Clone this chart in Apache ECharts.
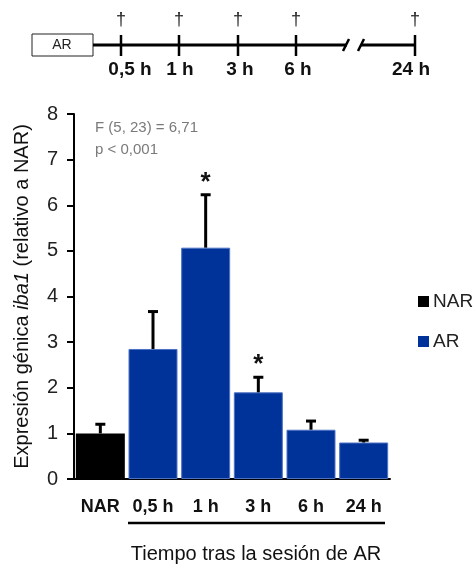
<!DOCTYPE html>
<html>
<head>
<meta charset="utf-8">
<script src="https://cdn.jsdelivr.net/npm/echarts@6/dist/echarts.min.js"></script>
<style>
html,body{margin:0;padding:0;background:#fff;}
#c{width:476px;height:565px;}
</style>
</head>
<body>
<div id="c"></div>
<script>
// ---- data ----
const categories = ['NAR', '0,5 h', '1 h', '3 h', '6 h', '24 h'];
const narValues = [1.0, '-', '-', '-', '-', '-'];
const arValues = ['-', 2.85, 5.07, 1.90, 1.08, 0.80];
const means = [1.0, 2.85, 5.07, 1.90, 1.08, 0.80];
const errTop = [1.20, 3.67, 6.23, 2.23, 1.27, 0.85];
const significant = [0, 0, 1, 1, 0, 0];
const yTicks = [0, 1, 2, 3, 4, 5, 6, 7, 8];
const timelineLabels = ['0,5 h', '1 h', '3 h', '6 h', '24 h'];
const statsLines = ['F (5, 23) = 6,71', 'p < 0,001'];

const FONT = 'Liberation Sans';
const BLUE = '#003399';

const errData = categories.map((c, i) => [i, means[i], errTop[i], significant[i]]);

const chart = echarts.init(document.getElementById('c'), null, {renderer: 'canvas'});

// timeline decoration
const tlX = [121, 179, 238, 296, 415];
const tl = [];
tl.push({type: 'rect', shape: {x: 32, y: 34, width: 61, height: 22}, style: {fill: '#fff', stroke: '#222', lineWidth: 1}});
tl.push({type: 'text', x: 62, y: 45, style: {text: 'AR', font: '14px ' + FONT, fill: '#222', textAlign: 'center', textVerticalAlign: 'middle'}});
tl.push({type: 'line', shape: {x1: 93, y1: 45, x2: 347, y2: 45}, style: {stroke: '#000', lineWidth: 3}});
tl.push({type: 'line', shape: {x1: 361, y1: 45, x2: 415, y2: 45}, style: {stroke: '#000', lineWidth: 3}});
tl.push({type: 'line', shape: {x1: 343, y1: 51, x2: 349, y2: 39}, style: {stroke: '#000', lineWidth: 2.5}});
tl.push({type: 'line', shape: {x1: 358, y1: 51, x2: 364, y2: 39}, style: {stroke: '#000', lineWidth: 2.5}});
tlX.forEach((x, i) => {
  tl.push({type: 'line', shape: {x1: x, y1: 35, x2: x, y2: 56}, style: {stroke: '#000', lineWidth: 2.5}});
  tl.push({type: 'text', x: x, y: 20, style: {text: '†', font: '18px ' + FONT, fill: '#222', textAlign: 'center', textVerticalAlign: 'middle'}});
});
const tlLabelX = [130, 180, 240, 298, 411];
timelineLabels.forEach((t, i) => {
  tl.push({type: 'text', x: tlLabelX[i], y: 70, style: {text: t, font: 'bold 19px ' + FONT, fill: '#111', textAlign: 'center', textVerticalAlign: 'middle'}});
});

const option = {
  animation: false,
  backgroundColor: '#fff',
  grid: {left: 74, right: 86, top: 114, bottom: 86, containLabel: false},
  legend: {
    data: ['NAR', 'AR'],
    orient: 'vertical',
    left: 418,
    top: 292,
    icon: 'rect',
    itemWidth: 11,
    itemHeight: 11,
    itemGap: 21,
    padding: 0,
    itemStyle: {borderWidth: 0},
    textStyle: {fontSize: 19, fontFamily: FONT, color: '#222', padding: [0, 0, 0, -1]}
  },
  xAxis: {
    type: 'category',
    data: categories,
    axisLine: {lineStyle: {color: '#000', width: 2}},
    axisTick: {show: false},
    axisLabel: {fontSize: 18, fontWeight: 'bold', fontFamily: FONT, color: '#111', margin: 19, interval: 0}
  },
  yAxis: {
    type: 'value',
    min: 0, max: 8, interval: 1,
    splitLine: {show: false},
    axisLine: {show: true, lineStyle: {color: '#000', width: 2}},
    axisTick: {show: true, length: 7, lineStyle: {color: '#000', width: 2}},
    axisLabel: {fontSize: 20, fontFamily: FONT, color: '#222', margin: 16},
    name: '{n|Expresión génica }{i|iba1}{n| (relativo a NAR)}',
    nameLocation: 'middle',
    nameRotate: 90,
    nameGap: 42,
    nameTextStyle: {
      fontSize: 20, fontFamily: FONT, color: '#111',
      rich: {
        n: {fontSize: 20, fontFamily: FONT, color: '#111'},
        i: {fontSize: 20, fontFamily: FONT, color: '#111', fontStyle: 'italic'}
      }
    }
  },
  series: [
    {
      name: 'NAR', type: 'bar', data: narValues, barGap: '-100%', barCategoryGap: '7%',
      itemStyle: {color: '#000'}
    },
    {
      name: 'AR', type: 'bar', data: arValues, barGap: '-100%', barCategoryGap: '7%',
      itemStyle: {color: BLUE, borderColor: '#4d72c4', borderWidth: 1}
    },
    {
      name: 'err', type: 'custom', data: errData, z: 10,
      renderItem: function (params, api) {
        const base = api.coord([api.value(0), api.value(1)]);
        const top = api.coord([api.value(0), api.value(2)]);
        const children = [
          {type: 'line', shape: {x1: base[0], y1: base[1], x2: top[0], y2: top[1]}, style: {stroke: '#000', lineWidth: 3}},
          {type: 'line', shape: {x1: top[0] - 5, y1: top[1], x2: top[0] + 5, y2: top[1]}, style: {stroke: '#000', lineWidth: 3}}
        ];
        if (api.value(3)) {
          children.push({type: 'text', x: top[0], y: top[1] + 1, style: {text: '*', font: 'bold 26px ' + FONT, fill: '#111', textAlign: 'center', textVerticalAlign: 'bottom'}});
        }
        return {type: 'group', children: children};
      }
    }
  ],
  graphic: [
    {type: 'group', children: tl},
    {type: 'text', left: 95, top: 120, style: {text: statsLines[0], font: '15px ' + FONT, fill: '#7a7a7a'}},
    {type: 'text', left: 95, top: 142, style: {text: statsLines[1], font: '15px ' + FONT, fill: '#7a7a7a'}},
    {type: 'line', shape: {x1: 128, y1: 523, x2: 385, y2: 523}, style: {stroke: '#000', lineWidth: 2.5}},
    {type: 'text', x: 256, y: 554, style: {text: 'Tiempo tras la sesión de AR', font: '20px ' + FONT, fill: '#111', textAlign: 'center', textVerticalAlign: 'middle'}}
  ]
};
chart.setOption(option);
</script>
</body>
</html>
